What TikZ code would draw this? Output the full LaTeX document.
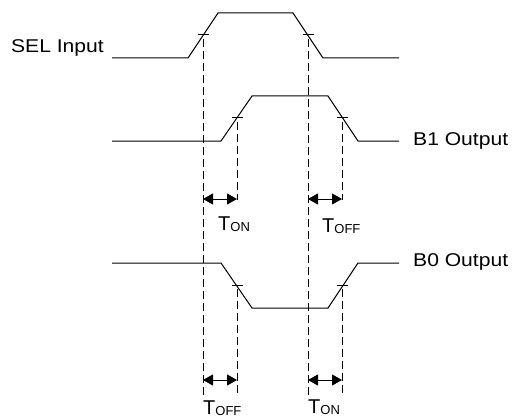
\documentclass[tikz,border=0pt]{standalone}
\usepackage{fontspec}
\setmainfont{Liberation Sans}
\usetikzlibrary{arrows.meta}
\newcommand{\widetxt}[1]{\scalebox{1.14}[1]{#1}}
\newcommand{\Tsub}[1]{T{\fontsize{13}{13}\selectfont\raisebox{-1.5pt}{#1}}}
\begin{document}
\begin{tikzpicture}[x=1pt,y=-1pt,
  wave/.style={line width=1pt},
  guide/.style={line width=0.9pt,dash pattern=on 8pt off 4pt},
  tickmark/.style={line width=1pt},
  dimarrow/.style={line width=1pt,{Triangle[length=10pt,width=11pt]}-{Triangle[length=10pt,width=11pt]}},
  lbl/.style={inner sep=0pt,font=\fontsize{18.5}{20}\selectfont},
  tl/.style={inner sep=0pt,font=\fontsize{20}{20}\selectfont}]
\useasboundingbox (0,0) rectangle (528,420);
% labels
\node[lbl,anchor=east] (sel) at (104,48) {\widetxt{SEL Input}};
\node[lbl,anchor=west] (b1) at (413,141) {\widetxt{B1 Output}};
\node[lbl,anchor=west] (b0) at (413,262) {\widetxt{B0 Output}};
% SEL waveform
\coordinate (s0) at (112,58);
\coordinate (s1) at (188,58);
\coordinate (s2) at (218,13);
\coordinate (s3) at (293,13);
\coordinate (s4) at (323,58);
\coordinate (s5) at (399,58);
\draw[wave] (s0) -- (s1) -- (s2) -- (s3) -- (s4) -- (s5);
% B1 waveform
\coordinate (p0) at (112,141);
\coordinate (p1) at (221,141);
\coordinate (p2) at (252,96);
\coordinate (p3) at (328,96);
\coordinate (p4) at (358,141);
\coordinate (p5) at (399,141);
\draw[wave] (p0) -- (p1) -- (p2) -- (p3) -- (p4) -- (p5);
% B0 waveform
\coordinate (q0) at (112,263);
\coordinate (q1) at (221,263);
\coordinate (q2) at (252,308);
\coordinate (q3) at (328,308);
\coordinate (q4) at (358,263);
\coordinate (q5) at (399,263);
\draw[wave] (q0) -- (q1) -- (q2) -- (q3) -- (q4) -- (q5);
% tick marks
\foreach \x/\y/\n in {203/35/ta,308/35/tb,237/118/tc,342/118/td,237/285/te,342/285/tf}{
  \coordinate (\n) at (\x,\y);
  \draw[tickmark] ([xshift=-5.5pt]\n) -- ([xshift=5.5pt]\n);
}
% guide lines
\coordinate (ga) at (203,395);
\coordinate (gb) at (308,395);
\coordinate (gc) at (237,200);
\coordinate (gd) at (342,200);
\coordinate (ge) at (237,395);
\coordinate (gf) at (342,395);
\draw[guide] ([yshift=-4pt]ta) -- (ga);
\draw[guide] ([yshift=-4pt]tb) -- (gb);
\draw[guide] ([yshift=-4pt]tc) -- (gc);
\draw[guide] ([yshift=-4pt]td) -- (gd);
\draw[guide] ([yshift=-4pt]te) -- (ge);
\draw[guide] ([yshift=-4pt]tf) -- (gf);
% dimension arrows
\coordinate (a1) at (203,199);
\coordinate (a2) at (237,199);
\coordinate (a3) at (308,199);
\coordinate (a4) at (342,199);
\coordinate (a5) at (203,380);
\coordinate (a6) at (237,380);
\coordinate (a7) at (308,380);
\coordinate (a8) at (342,380);
\draw[dimarrow] (a1) -- (a2);
\draw[dimarrow] (a3) -- (a4);
\draw[dimarrow] (a5) -- (a6);
\draw[dimarrow] (a7) -- (a8);
% timing labels
\node[tl,anchor=west] (ton1) at (218,224) {\Tsub{ON}};
\node[tl,anchor=west] (toff1) at (322,226) {\Tsub{OFF}};
\node[tl,anchor=west] (toff2) at (203,408) {\Tsub{OFF}};
\node[tl,anchor=west] (ton2) at (308,407) {\Tsub{ON}};
\end{tikzpicture}
\end{document}
